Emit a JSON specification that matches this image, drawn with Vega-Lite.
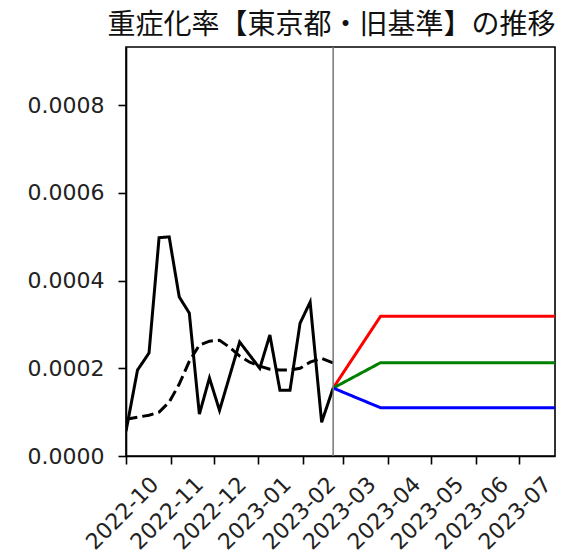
{
  "$schema": "https://vega.github.io/schema/vega-lite/v6.json",
  "autosize": {"type": "none"},
  "padding": {"left": 126, "top": 47, "right": 28, "bottom": 103},
  "width": 429,
  "height": 409,
  "title": {
    "text": "重症化率【東京都・旧基準】の推移",
    "font": "Noto Sans CJK JP",
    "fontSize": 28,
    "fontWeight": "normal",
    "color": "#111",
    "anchor": "middle",
    "dx": -9,
    "offset": 6
  },
  "datasets": {
    "series": [
      {"date": "2022-10-01", "value": 0.0000565, "series": "実績"},
      {"date": "2022-10-09", "value": 0.000196, "series": "実績"},
      {"date": "2022-10-17", "value": 0.000235, "series": "実績"},
      {"date": "2022-10-24", "value": 0.000498, "series": "実績"},
      {"date": "2022-10-31", "value": 0.000500, "series": "実績"},
      {"date": "2022-11-07", "value": 0.000363, "series": "実績"},
      {"date": "2022-11-14", "value": 0.000326, "series": "実績"},
      {"date": "2022-11-21", "value": 0.0000953, "series": "実績"},
      {"date": "2022-11-28", "value": 0.000178, "series": "実績"},
      {"date": "2022-12-05", "value": 0.000104, "series": "実績"},
      {"date": "2022-12-12", "value": 0.000182, "series": "実績"},
      {"date": "2022-12-19", "value": 0.000260, "series": "実績"},
      {"date": "2022-12-26", "value": 0.000230, "series": "実績"},
      {"date": "2023-01-02", "value": 0.000200, "series": "実績"},
      {"date": "2023-01-09", "value": 0.000276, "series": "実績"},
      {"date": "2023-01-16", "value": 0.000150, "series": "実績"},
      {"date": "2023-01-23", "value": 0.000150, "series": "実績"},
      {"date": "2023-01-30", "value": 0.000303, "series": "実績"},
      {"date": "2023-02-06", "value": 0.000351, "series": "実績"},
      {"date": "2023-02-14", "value": 0.000077, "series": "実績"},
      {"date": "2023-02-22", "value": 0.000155, "series": "実績"},
      {"date": "2022-10-01", "value": 0.0000839, "series": "平均"},
      {"date": "2022-10-09", "value": 0.0000885, "series": "平均"},
      {"date": "2022-10-17", "value": 0.000093, "series": "平均"},
      {"date": "2022-10-24", "value": 0.000100, "series": "平均"},
      {"date": "2022-10-31", "value": 0.000123, "series": "平均"},
      {"date": "2022-11-07", "value": 0.000164, "series": "平均"},
      {"date": "2022-11-14", "value": 0.000216, "series": "平均"},
      {"date": "2022-11-21", "value": 0.000253, "series": "平均"},
      {"date": "2022-11-28", "value": 0.000262, "series": "平均"},
      {"date": "2022-12-05", "value": 0.000264, "series": "平均"},
      {"date": "2022-12-12", "value": 0.000248, "series": "平均"},
      {"date": "2022-12-19", "value": 0.000228, "series": "平均"},
      {"date": "2022-12-26", "value": 0.000214, "series": "平均"},
      {"date": "2023-01-02", "value": 0.000205, "series": "平均"},
      {"date": "2023-01-09", "value": 0.000198, "series": "平均"},
      {"date": "2023-01-16", "value": 0.000196, "series": "平均"},
      {"date": "2023-01-23", "value": 0.000196, "series": "平均"},
      {"date": "2023-01-30", "value": 0.000200, "series": "平均"},
      {"date": "2023-02-06", "value": 0.000214, "series": "平均"},
      {"date": "2023-02-14", "value": 0.000223, "series": "平均"},
      {"date": "2023-02-22", "value": 0.000212, "series": "平均"},
      {"date": "2023-02-22", "value": 0.000155, "series": "高位"},
      {"date": "2023-03-27", "value": 0.000319, "series": "高位"},
      {"date": "2023-07-31", "value": 0.000319, "series": "高位"},
      {"date": "2023-02-22", "value": 0.000155, "series": "中位"},
      {"date": "2023-03-27", "value": 0.000213, "series": "中位"},
      {"date": "2023-07-31", "value": 0.000213, "series": "中位"},
      {"date": "2023-02-22", "value": 0.000155, "series": "低位"},
      {"date": "2023-03-27", "value": 0.000110, "series": "低位"},
      {"date": "2023-07-31", "value": 0.000110, "series": "低位"}
    ],
    "marker": [{"date": "2023-02-22"}]
  },
  "encoding": {
    "x": {
      "field": "date",
      "type": "temporal",
      "scale": {
        "type": "utc",
        "domain": [
          {"year": 2022, "month": 10, "date": 1, "utc": true},
          {"year": 2023, "month": 7, "date": 26, "hours": 5, "utc": true}
        ]
      },
      "axis": {
        "title": null,
        "values": [
          {"year": 2022, "month": 10, "date": 1, "utc": true},
          {"year": 2022, "month": 11, "date": 1, "utc": true},
          {"year": 2022, "month": 12, "date": 1, "utc": true},
          {"year": 2023, "month": 1, "date": 1, "utc": true},
          {"year": 2023, "month": 2, "date": 1, "utc": true},
          {"year": 2023, "month": 3, "date": 1, "utc": true},
          {"year": 2023, "month": 4, "date": 1, "utc": true},
          {"year": 2023, "month": 5, "date": 1, "utc": true},
          {"year": 2023, "month": 6, "date": 1, "utc": true},
          {"year": 2023, "month": 7, "date": 1, "utc": true}
        ],
        "labelExpr": "utcFormat(datum.value, '%Y-%m')",
        "labelAngle": -45,
        "labelAlign": "center",
        "labelBaseline": "middle",
        "labelPadding": 49,
        "labelOffset": -4
      }
    }
  },
  "layer": [
    {
      "data": {"name": "series"},
      "mark": {"type": "line", "strokeWidth": 3, "clip": true},
      "encoding": {
        "y": {
          "field": "value",
          "type": "quantitative",
          "scale": {"domain": [0, 0.000933], "nice": false, "zero": true},
          "axis": {
            "title": null,
            "values": [0, 0.0002, 0.0004, 0.0006, 0.0008],
            "format": ".4f",
            "labelPadding": 14
          }
        },
        "color": {
          "field": "series",
          "type": "nominal",
          "scale": {
            "domain": ["実績", "平均", "高位", "中位", "低位"],
            "range": ["#000000", "#000000", "#ff0000", "#008000", "#0000ff"]
          },
          "legend": null
        },
        "strokeDash": {
          "field": "series",
          "type": "nominal",
          "scale": {
            "domain": ["実績", "平均", "高位", "中位", "低位"],
            "range": [[1, 0], [11.5, 5], [1, 0], [1, 0], [1, 0]]
          },
          "legend": null
        }
      }
    },
    {
      "data": {"name": "marker"},
      "mark": {"type": "rule", "color": "#777", "strokeWidth": 1.5},
      "encoding": {}
    }
  ],
  "config": {
    "view": {"stroke": "#000", "strokeWidth": 1.6},
    "axis": {
      "grid": false,
      "domainColor": "#000",
      "domainWidth": 1.6,
      "tickColor": "#000",
      "tickWidth": 1.6,
      "tickSize": 8,
      "labelFont": "DejaVu Sans",
      "labelFontSize": 22,
      "labelColor": "#222",
      "labelOverlap": false,
      "labelBound": false,
      "labelFlush": false
    }
  }
}
